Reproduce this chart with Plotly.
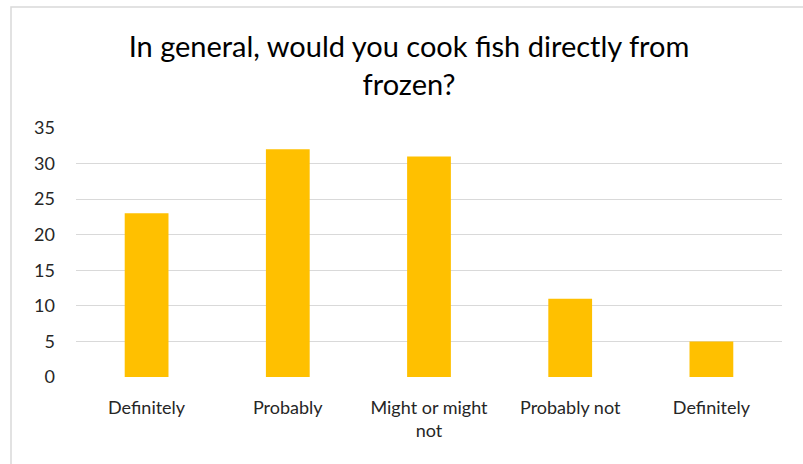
import plotly.graph_objects as go

categories = ["Definitely", "Probably", "Might or might<br>not", "Probably not", "Definitely"]
values = [23, 32, 31, 11, 5]
y_ticks = [0, 5, 10, 15, 20, 25, 30, 35]
title_text = "In general, would you cook fish directly from<br>frozen?"

positions = list(range(len(categories)))

W, H = 803, 464
L, R, T, B = 76, 21, 128, 87
pw, ph = W - L - R, H - T - B

fig = go.Figure()
fig.add_trace(go.Bar(x=positions, y=values, marker=dict(color="#FFC000", line=dict(width=0)),
                     hoverinfo="skip"))

fig.update_layout(
    width=W, height=H,
    margin=dict(l=L, r=R, t=T, b=B, pad=0),
    paper_bgcolor="white", plot_bgcolor="white",
    font=dict(family="Lato, sans-serif", color="#262626", size=18),
    bargap=0.69,
    showlegend=False,
    title=dict(text=title_text, x=409 / W, xanchor="center", xref="container",
               y=1 - 57 / H, yanchor="middle", yref="container",
               font=dict(family="Lato, sans-serif", size=29, color="#000000")),
    xaxis=dict(range=[-0.5, 4.5], tickmode="array", tickvals=positions, ticktext=categories,
               showgrid=False, zeroline=False, showline=False, ticks="", ticklabelstandoff=18,
               tickfont=dict(size=18)),
    yaxis=dict(range=[0, 35], tickmode="array", tickvals=y_ticks, showgrid=True,
               gridcolor="#d9d9d9", gridwidth=1, zeroline=False, showline=False,
               ticks="", ticklabelstandoff=20, tickfont=dict(size=18)),
)

# chart frame (extends beyond the visible area at right/bottom)
fig.add_shape(type="rect", xref="paper", yref="paper",
              x0=(11 - L) / pw, x1=(W + 20 - L) / pw,
              y0=-(B + 20) / ph, y1=(377 - 7) / ph,
              line=dict(color="#d9d9d9", width=1.5), fillcolor="rgba(0,0,0,0)", layer="below")

fig.write_html("out.html")
